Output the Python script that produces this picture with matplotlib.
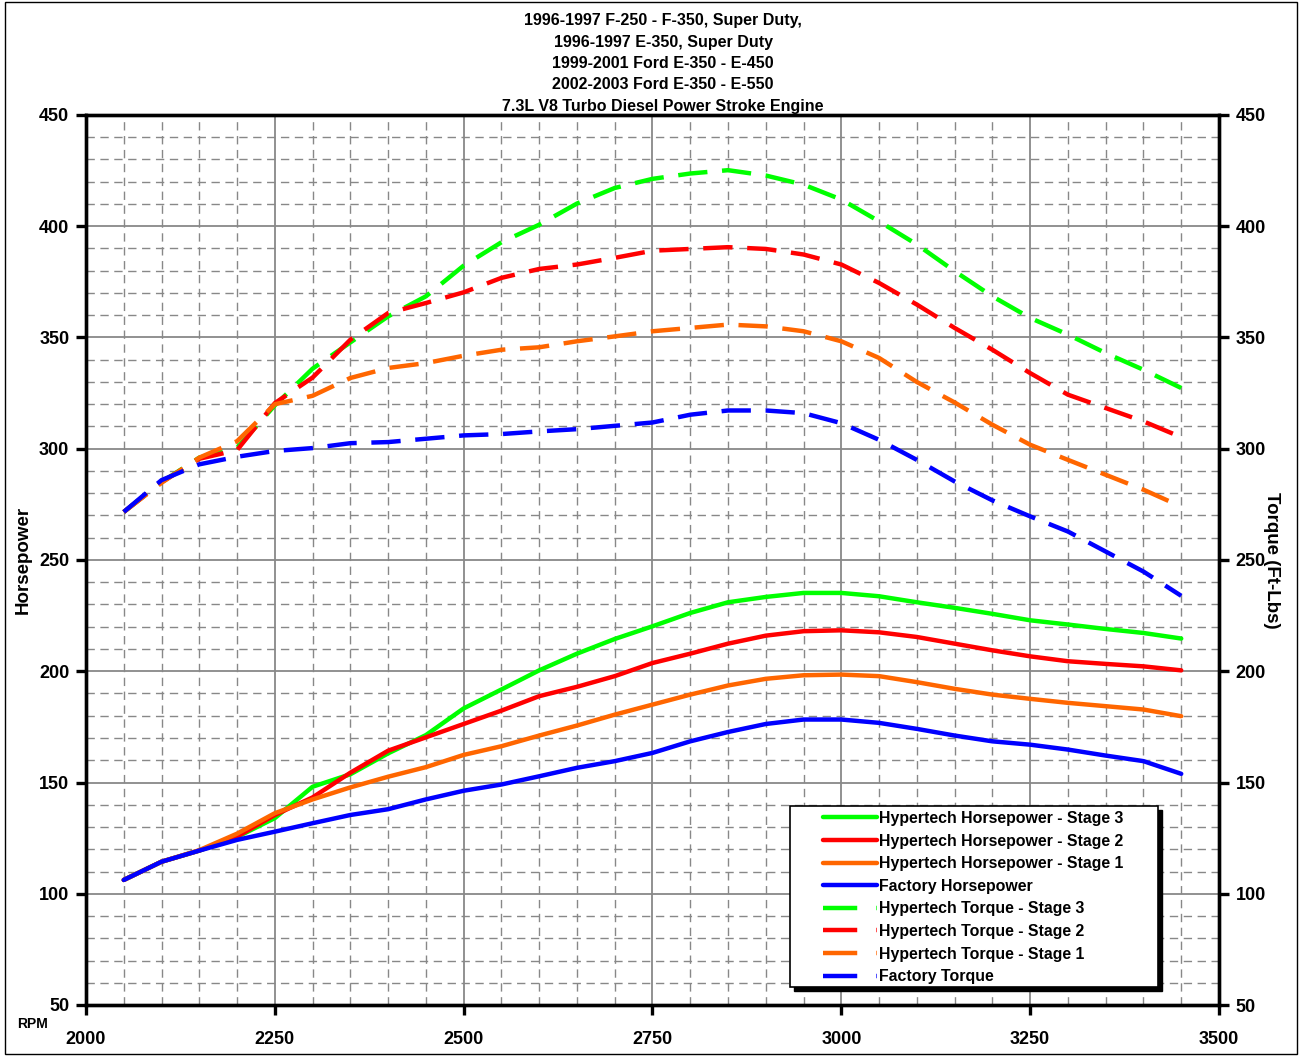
import matplotlib
matplotlib.use("Agg")
import matplotlib.pyplot as plt
from matplotlib.patches import Rectangle
from matplotlib.lines import Line2D
from matplotlib.ticker import MultipleLocator

plt.rcParams['font.family'] = ['Liberation Sans', 'DejaVu Sans']
plt.rcParams['font.weight'] = 'bold'

# RPM sample points
rpm = [2050, 2100, 2150, 2200, 2250, 2300, 2350, 2400, 2450, 2500,
       2550, 2600, 2650, 2700, 2750, 2800, 2850, 2900, 2950, 3000,
       3050, 3100, 3150, 3200, 3250, 3300, 3350, 3400, 3450]

# Horsepower curves
hp_stage3 = [106.2, 114.4, 119.4, 125.5, 134.0, 148.1, 153.7, 163.1, 171.3, 183.3,
             191.8, 200.4, 207.9, 214.5, 220.2, 226.2, 231.0, 233.4, 235.2, 235.2,
             233.7, 231.0, 228.5, 225.8, 222.9, 221.0, 219.0, 217.2, 214.7]
hp_stage2 = [106.2, 114.4, 119.4, 125.7, 135.4, 143.3, 154.4, 164.3, 170.3, 176.3,
             182.3, 188.8, 193.0, 197.8, 203.7, 207.9, 212.4, 216.0, 218.0, 218.4,
             217.5, 215.4, 212.4, 209.4, 206.7, 204.5, 203.3, 202.2, 200.4]
hp_stage1 = [106.2, 114.4, 119.6, 127.0, 136.2, 142.4, 147.8, 152.6, 156.9, 162.4,
             166.3, 171.1, 175.6, 180.5, 185.0, 189.5, 193.6, 196.6, 198.2, 198.5,
             197.8, 195.1, 192.1, 189.5, 187.6, 185.8, 184.3, 182.8, 179.8]
hp_factory = [106.2, 114.4, 119.4, 124.2, 127.9, 131.7, 135.4, 138.0, 142.4, 146.3,
              149.1, 152.8, 156.6, 159.6, 163.3, 168.5, 172.7, 176.3, 178.3, 178.3,
              176.8, 174.1, 171.1, 168.5, 167.0, 164.8, 162.1, 159.6, 153.9]

# Torque curves
tq_stage3 = [271.6, 285.0, 296.0, 300.4, 319.5, 336.0, 347.8, 359.5, 368.5, 382.3,
             392.8, 400.7, 410.2, 417.2, 421.3, 423.7, 425.2, 422.8, 418.7, 412.0,
             402.2, 391.8, 379.8, 368.5, 358.8, 351.3, 343.0, 335.5, 327.3]
tq_stage2 = [271.6, 285.0, 295.5, 299.4, 320.5, 332.0, 349.0, 361.0, 365.5, 370.3,
             376.8, 380.8, 382.8, 385.8, 389.0, 389.8, 390.6, 389.8, 387.3, 382.8,
             374.5, 364.8, 354.3, 344.5, 334.0, 324.3, 318.3, 312.3, 305.2]
tq_stage1 = [271.6, 284.7, 296.0, 303.4, 320.0, 323.8, 331.8, 336.3, 338.5, 341.8,
             344.5, 345.6, 348.3, 350.5, 352.8, 354.3, 355.8, 355.0, 352.8, 348.3,
             340.8, 330.0, 320.8, 310.8, 301.8, 295.0, 288.3, 281.6, 274.0]
tq_factory = [271.6, 285.9, 293.0, 296.4, 299.0, 300.3, 302.5, 303.0, 304.5, 306.0,
              306.6, 307.8, 308.8, 310.3, 311.8, 315.3, 317.2, 317.2, 316.0, 311.5,
              304.0, 295.0, 285.3, 276.8, 269.6, 262.8, 253.8, 244.8, 233.9]

title_lines = ["1996-1997 F-250 - F-350, Super Duty,",
               "1996-1997 E-350, Super Duty",
               "1999-2001 Ford E-350 - E-450",
               "2002-2003 Ford E-350 - E-550",
               "7.3L V8 Turbo Diesel Power Stroke Engine"]

hp_series = [(hp_stage3, '#00FF00', 'Hypertech Horsepower - Stage 3'),
             (hp_stage2, '#FF0000', 'Hypertech Horsepower - Stage 2'),
             (hp_stage1, '#FF6600', 'Hypertech Horsepower - Stage 1'),
             (hp_factory, '#0000FF', 'Factory Horsepower')]
tq_series = [(tq_stage3, '#00FF00', 'Hypertech Torque - Stage 3'),
             (tq_stage2, '#FF0000', 'Hypertech Torque - Stage 2'),
             (tq_stage1, '#FF6600', 'Hypertech Torque - Stage 1'),
             (tq_factory, '#0000FF', 'Factory Torque')]

W, H = 1300, 1057
fig = plt.figure(figsize=(W / 100, H / 100), dpi=100)
fig.patch.set_facecolor('white')
fig.patches.append(Rectangle((0.004, 0.003), 0.994, 0.995, transform=fig.transFigure,
                             fill=False, edgecolor='black', linewidth=1.0))

ax = fig.add_axes([86 / W, 1 - 1005 / H, (1219 - 86) / W, (1005 - 115) / H])
ax2 = ax.twinx()

for a in (ax, ax2):
    a.set_xlim(2000, 3500)
    a.set_ylim(50, 450)
    a.yaxis.set_major_locator(MultipleLocator(50))
    for s in a.spines.values():
        s.set_linewidth(2.4)

ax.xaxis.set_major_locator(MultipleLocator(250))
ax.xaxis.set_minor_locator(MultipleLocator(50))
ax.yaxis.set_minor_locator(MultipleLocator(10))
ax.grid(which='major', color='#888888', linewidth=1.3, linestyle='-')
ax.grid(which='minor', color='#888888', linewidth=1.0, linestyle=(0, (6, 4)))
ax.set_axisbelow(True)

ax.tick_params(which='major', direction='out', length=7, width=2.4, labelsize=13, pad=5)
ax.tick_params(axis='x', which='major', pad=12)
ax.tick_params(which='minor', length=0)
ax2.tick_params(which='major', direction='out', length=7, width=2.4, labelsize=13, pad=5)
ax2.tick_params(which='minor', length=0)

handles = []
for vals, col, lab in hp_series:
    h, = ax.plot(rpm, vals, color=col, linewidth=3.2, label=lab,
                 solid_capstyle='round', solid_joinstyle='round')
    handles.append(h)
for vals, col, lab in tq_series:
    ax2.plot(rpm, vals, color=col, linewidth=3.2, label=lab,
             linestyle=(0, (6.6, 3.3)), dash_capstyle='butt')
    # legend proxy: long dash, gap, then the start of the next dash
    handles.append(Line2D([], [], color=col, linewidth=3.2, label=lab,
                          linestyle=(0, (7.7, 4.3)), dash_capstyle='butt'))

ax.set_ylabel('Horsepower', fontsize=13.5, fontweight='bold')
ax.yaxis.set_label_coords(-0.048, 0.5)
ax2.set_ylabel('Torque (Ft-Lbs)', fontsize=13.5, fontweight='bold', rotation=270, labelpad=0)
ax2.yaxis.set_label_coords(1.054, 0.5)
fig.text(33 / W, 1 - 1024 / H, 'RPM', fontsize=10, fontweight='bold', ha='center', va='center')

for i, line in enumerate(title_lines):
    fig.text(663 / W, 1 - (21 + i * 21.3) / H, line, fontsize=11.5, fontweight='bold',
             ha='center', va='center')

# legend box with solid black drop shadow, drawn by hand so padding can match
lx0, ly0, lx1, ly1 = 790, 806, 1158, 987
fig.patches.append(Rectangle((lx0 / W + 4 / W, 1 - (ly1 + 4) / H), (lx1 - lx0) / W, (ly1 - ly0) / H,
                             transform=fig.transFigure, facecolor='black', edgecolor='black', zorder=5))
fig.patches.append(Rectangle((lx0 / W, 1 - ly1 / H), (lx1 - lx0) / W, (ly1 - ly0) / H,
                             transform=fig.transFigure, facecolor='white', edgecolor='black',
                             linewidth=1.2, zorder=6))

leg = fig.legend(handles=handles, loc='upper left',
                 bbox_to_anchor=(823 / W, 1 - 811 / H), bbox_transform=fig.transFigure,
                 fontsize=11.4, frameon=False, handlelength=3.4, handletextpad=0.12,
                 labelspacing=0.48, borderpad=0, borderaxespad=0)
leg.set_zorder(7)

fig.savefig('out.png', dpi=100)
